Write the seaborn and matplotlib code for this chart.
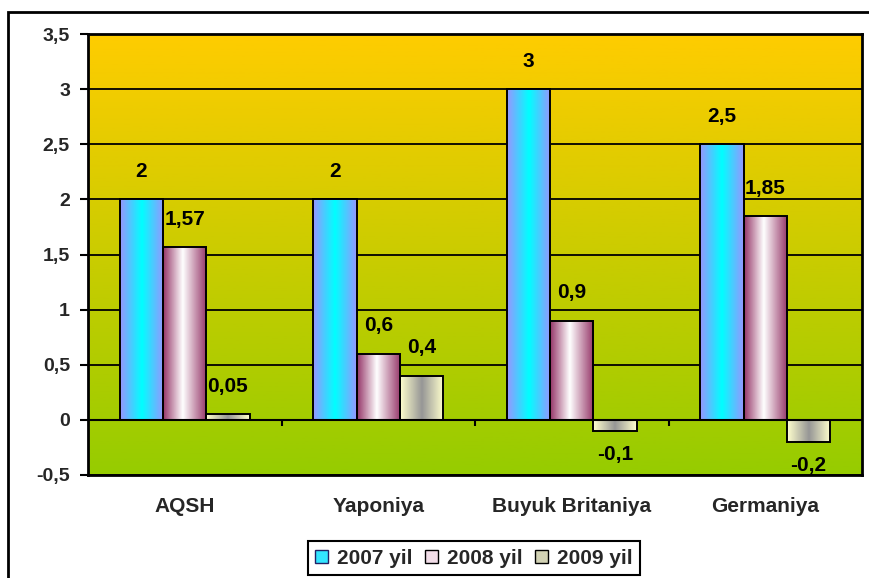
import numpy as np
import pandas as pd
import matplotlib
matplotlib.use("Agg")
import matplotlib.pyplot as plt
import seaborn as sns
from matplotlib.patches import Patch, Rectangle

# --- data ---
countries = ["AQSH", "Yaponiya", "Buyuk Britaniya", "Germaniya"]
years = ["2007 yil", "2008 yil", "2009 yil"]
v2007 = [2, 2, 3, 2.5]
v2008 = [1.57, 0.6, 0.9, 1.85]
v2009 = [0.05, 0.4, -0.1, -0.2]
y_ticks = [-0.5, 0, 0.5, 1, 1.5, 2, 2.5, 3, 3.5]

df = pd.DataFrame({
    "country": countries * 3,
    "year": np.repeat(years, len(countries)),
    "value": v2007 + v2008 + v2009,
})

sns.set_theme(style="white")
plt.rcParams["font.family"] = ["Liberation Sans", "DejaVu Sans"]
plt.rcParams["font.weight"] = "bold"


def fmt(v):
    return f"{v:g}".replace(".", ",")


def hgrad(edge, mid, n=64, center=0.5):
    # horizontal gradient edge -> mid -> edge
    t = np.linspace(0, 1, n)
    w = np.where(t < center, t / center, (1 - t) / (1 - center))
    edge = np.array(edge) / 255
    mid = np.array(mid) / 255
    return (edge[None, :] * (1 - w[:, None]) + mid[None, :] * w[:, None])[None, :, :]


bar_grads = [
    hgrad((150, 150, 255), (0, 255, 255)),
    hgrad((150, 55, 105), (255, 255, 255), center=0.45),
    hgrad((255, 255, 205), (150, 150, 150)),
]

fig = plt.figure(figsize=(8.69, 5.78), dpi=100)
ax = fig.add_axes([88 / 869, 103 / 578, 774 / 869, 441 / 578])

sns.barplot(data=df, x="country", y="value", hue="year", width=0.67, gap=0,
            edgecolor="black", linewidth=1.4, legend=False, ax=ax, zorder=3)

# background gradient: gold at top, green at bottom
top = np.array([255, 204, 0]) / 255
bot = np.array([150, 204, 0]) / 255
t = np.linspace(0, 1, 256)[:, None]
bg = (top * (1 - t) + bot * t)[:, None, :]
ax.imshow(bg, extent=[0, 1, 0, 1], transform=ax.transAxes, aspect="auto", zorder=0)

# gradient fills for bars + value labels
for cont, grad in zip(ax.containers, bar_grads):
    for bar in cont:
        bar.set_facecolor("none")
        x0, y0 = bar.get_x(), bar.get_y()
        w, h = bar.get_width(), bar.get_height()
        ax.imshow(grad, extent=[x0, x0 + w, min(y0, y0 + h), max(y0, y0 + h)],
                  aspect="auto", zorder=2)
        val = y0 + h
        off = 20 if val >= 0 else -17
        ax.annotate(fmt(val), (x0 + w / 2, val), xytext=(0, off),
                    textcoords="offset points", ha="center", va="center",
                    fontsize=15, fontweight="bold", color="black", zorder=5)

ax.set_xlim(-0.5, len(countries) - 0.5)
ax.set_ylim(-0.5, 3.5)

ax.set_axisbelow(True)
ax.yaxis.grid(True, color="black", linewidth=1.3)
ax.axhline(0, color="black", linewidth=1.5, zorder=2.5)
for xb in np.arange(len(countries) - 1) + 0.5:
    ax.vlines(xb, -0.06, 0, color="black", linewidth=1.5, zorder=2.5)

for s in ax.spines.values():
    s.set_color("black")
    s.set_linewidth(2)

ax.set_yticks(y_ticks)
ax.set_yticklabels([fmt(v) for v in y_ticks], fontsize=14, fontweight="bold")
ax.tick_params(axis="y", direction="out", length=6, width=1.5, color="black", pad=7, left=True)
ax.tick_params(axis="x", length=0, pad=16, labelsize=15)
for lab in ax.get_xticklabels():
    lab.set_fontweight("bold")
ax.set_xlabel("")
ax.set_ylabel("")

# outer chart frame
fig.patches.append(Rectangle((8 / 869, -0.05), 1.0, 566 / 578 + 0.05, transform=fig.transFigure,
                             fill=False, edgecolor="black", linewidth=2))

handles = [
    Patch(facecolor="#33E5FF", edgecolor="#222266", label=years[0]),
    Patch(facecolor="#F2DDE8", edgecolor="black", label=years[1]),
    Patch(facecolor="#D2D2B4", edgecolor="black", label=years[2]),
]
leg = fig.legend(handles=handles, loc="lower center", bbox_to_anchor=(474 / 869, 3 / 578),
                 ncol=3, frameon=True, fancybox=False, edgecolor="black", framealpha=1,
                 fontsize=15, handlelength=0.6, handleheight=0.6, columnspacing=0.6,
                 handletextpad=0.45, borderpad=0.35, borderaxespad=0)
leg.get_frame().set_linewidth(1.5)
for txt in leg.get_texts():
    txt.set_fontweight("bold")

fig.savefig("out.png", dpi=100)
